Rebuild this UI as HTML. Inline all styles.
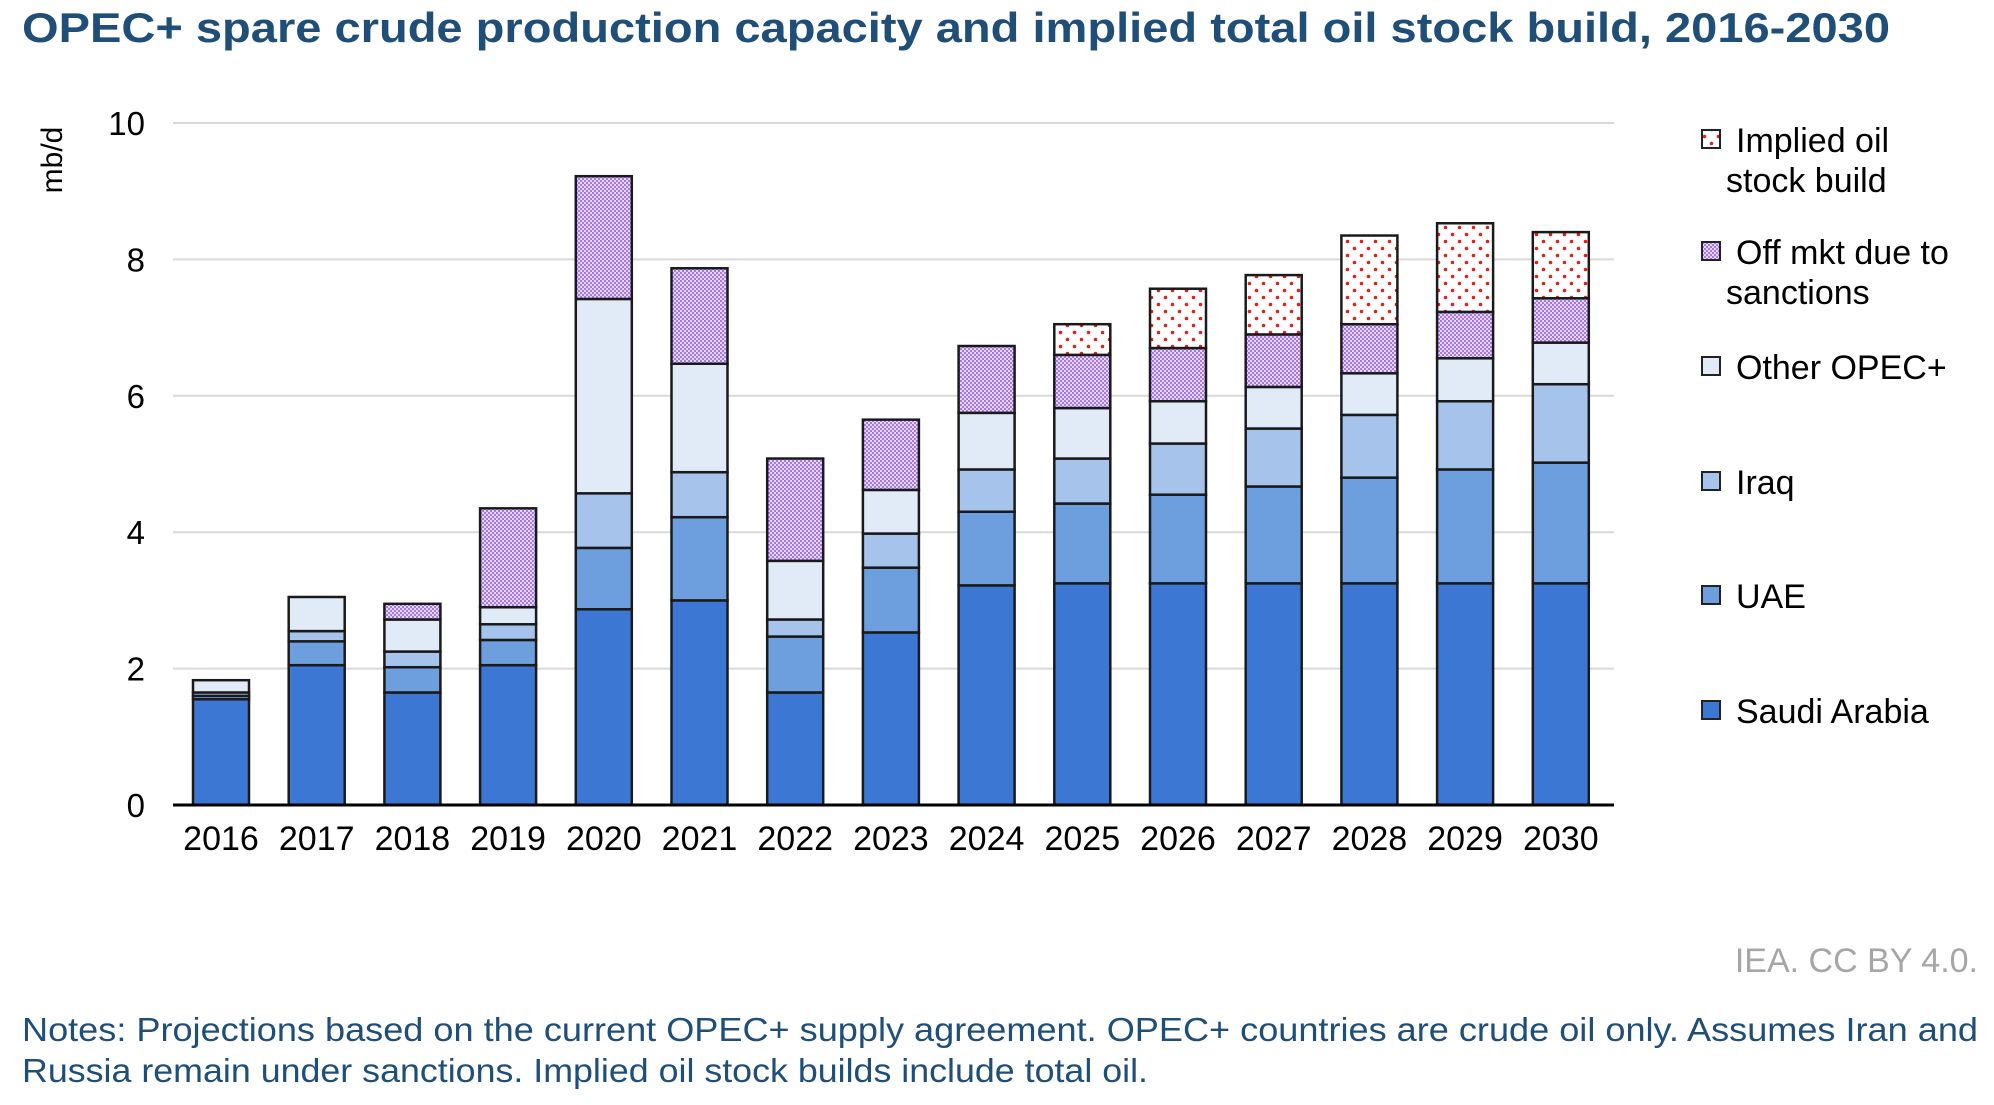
<!DOCTYPE html>
<html><head><meta charset="utf-8"><style>
body{margin:0;background:#fff;width:1994px;height:1100px;overflow:hidden;font-family:"Liberation Sans",Arial,sans-serif}
</style></head><body>
<svg width="1994" height="1100" xmlns="http://www.w3.org/2000/svg">
<defs>
<pattern id="pPurple" width="4" height="4" patternUnits="userSpaceOnUse">
<rect width="4" height="4" fill="#e6d6fb"/><rect width="2" height="2" fill="#a57ae8"/><rect x="2" y="2" width="2" height="2" fill="#a57ae8"/>
</pattern>
<pattern id="pRed" width="14" height="14" patternUnits="userSpaceOnUse">
<rect width="14" height="14" fill="#fff"/><circle cx="3.5" cy="3.5" r="1.8" fill="#e02020"/><circle cx="10.5" cy="10.5" r="1.8" fill="#e02020"/>
</pattern>
</defs>
<text x="22" y="42" font-size="42" font-weight="bold" fill="#1f4e79" textLength="1868" lengthAdjust="spacingAndGlyphs">OPEC+ spare crude production capacity and implied total oil stock build, 2016-2030</text>
<text transform="translate(62,160) rotate(-90)" text-anchor="middle" font-size="30" fill="#000">mb/d</text>
<g id="grid"></g><g id="bars"></g><g id="xlabels"></g>
<line x1="173" y1="805" x2="1614" y2="805" stroke="#000" stroke-width="3"/>
<g id="legend" font-size="34"></g>
<text x="1978" y="972" text-anchor="end" font-size="34" fill="#a6a6a6">IEA. CC BY 4.0.</text>
<text x="22" y="1041" font-size="33" fill="#1f4e79" textLength="1956" lengthAdjust="spacingAndGlyphs">Notes: Projections based on the current OPEC+ supply agreement. OPEC+ countries are crude oil only. Assumes Iran and</text>
<text x="22" y="1082" font-size="33" fill="#1f4e79" textLength="1126" lengthAdjust="spacingAndGlyphs">Russia remain under sanctions. Implied oil stock builds include total oil.</text>
</svg>
<script>
const years=["2016","2017","2018","2019","2020","2021","2022","2023","2024","2025","2026","2027","2028","2029","2030"];
const saudi=[1.55,2.05,1.65,2.05,2.87,3.0,1.65,2.53,3.22,3.25,3.25,3.25,3.25,3.25,3.25];
const uae=[0.05,0.35,0.37,0.37,0.9,1.22,0.82,0.95,1.08,1.17,1.3,1.42,1.55,1.67,1.77];
const iraq=[0.05,0.15,0.23,0.23,0.8,0.66,0.25,0.5,0.62,0.66,0.75,0.85,0.92,1.0,1.15];
const other=[0.18,0.5,0.47,0.25,2.85,1.59,0.86,0.64,0.83,0.74,0.62,0.61,0.61,0.63,0.61];
const offmkt=[0,0,0.23,1.45,1.8,1.4,1.5,1.03,0.98,0.78,0.78,0.77,0.72,0.68,0.65];
const stockBuild=[0,0,0,0,0,0,0,0,0,0.45,0.87,0.87,1.3,1.3,0.97];
const yTicks=[0,2,4,6,8,10];
const NS="http://www.w3.org/2000/svg";
const y0=805,unit=68.2,x0=221,pitch=95.7,bw=56;
const yS=v=>y0-v*unit, xS=i=>x0+i*pitch;
function mk(tag,at,parent){const e=document.createElementNS(NS,tag);for(const k in at)e.setAttribute(k,at[k]);parent.appendChild(e);return e;}
const grid=document.getElementById('grid');
yTicks.forEach(t=>{
 if(t>0){const l=mk('line',{x1:173,x2:1614,y1:yS(t),y2:yS(t),stroke:'#d9d9d9','stroke-width':2},grid);
 
 }
 const tx=mk('text',{x:145,y:yS(t)+12,'text-anchor':'end','font-size':33},grid);tx.textContent=t;
 
 
});
const series=[["saudi-arabia",saudi,"#3c78d3"],["uae",uae,"#6d9ede"],["iraq",iraq,"#a6c3eb"],["other-opec",other,"#e1ebf8"],["off-market-sanctions",offmkt,"url(#pPurple)"],["implied-stock-build",stockBuild,"url(#pRed)"]];
const bars=document.getElementById('bars'),xl=document.getElementById('xlabels');
years.forEach((yr,i)=>{
 let c=0;
 series.forEach(([nm,arr,fill])=>{
  const v=arr[i]; if(v<=0)return;
  const r=mk('rect',{x:xS(i)-bw/2,y:yS(c+v),width:bw,height:v*unit,fill:fill,stroke:'#1a1a1a','stroke-width':2.5},bars);
  
  
  c+=v;
 });
 const t=mk('text',{x:xS(i),y:850,'text-anchor':'middle','font-size':34},xl);t.textContent=yr;
 
 
});
const leg=document.getElementById('legend');
const legItems=[["Implied oil","stock build","url(#pRed)",140,"legend-implied-stock-build"],["Off mkt due to","sanctions","url(#pPurple)",252,"legend-off-market"],["Other OPEC+","","#e1ebf8",367,"legend-other-opec"],["Iraq","","#a6c3eb",482,"legend-iraq"],["UAE","","#6d9ede",596,"legend-uae"],["Saudi Arabia","","#3c78d3",711,"legend-saudi-arabia"]];
legItems.forEach(([a,b,f,y,nm])=>{
 const g=mk('g',{},leg);
 
 
 mk('rect',{x:1702,y:y-10,width:18,height:18,fill:f,stroke:'#222','stroke-width':2},g);
 const t=mk('text',{x:1736,y:y+12},g);t.textContent=a;
 if(b){const t2=mk('text',{x:1726,y:y+52},g);t2.textContent=b;}
});
</script>
</body></html>
